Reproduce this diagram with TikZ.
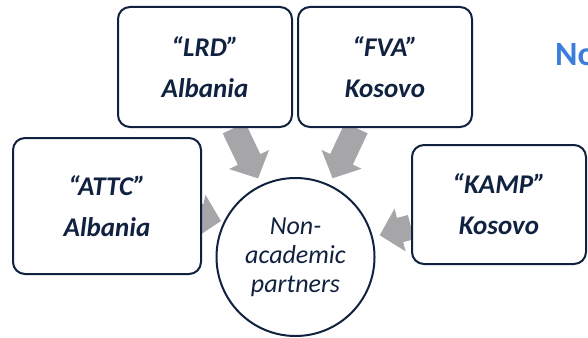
\documentclass[tikz,border=0pt]{standalone}
\usepackage{fontspec}
\setmainfont{Carlito}
\usetikzlibrary{positioning,arrows.meta,backgrounds}
\definecolor{navy}{HTML}{10223F}
\definecolor{flowgray}{HTML}{A6A6A8}
\definecolor{titleblue}{HTML}{3A7DDB}

\begin{document}
\begin{tikzpicture}[x=1pt, y=-1pt, node distance=4pt,
    partner/.style={draw=navy, line width=2pt, rounded corners=12pt, fill=white,
        text=navy, align=center, font=\fontsize{27}{41}\selectfont\bfseries\itshape},
    hubnode/.style={draw=navy, line width=2pt, circle, fill=white, text=navy,
        align=center, font=\fontsize{26}{29}\selectfont\itshape},
    flow/.style={draw=flowgray, line width=25pt, -{Triangle[width=43pt, length=21pt]}, shorten >=7pt}]
    % Fixed canvas, same size as the reference
    \useasboundingbox (0,0) rectangle (588,337);

    % Partner boxes and the hub
    \node[partner, minimum width=174pt, minimum height=120pt] (lrd) at (205,67) {“LRD”\\Albania};
    \node[partner, minimum width=174pt, minimum height=120pt, right=of lrd] (fva) {“FVA”\\Kosovo};
    \node[partner, minimum width=188pt, minimum height=136pt] (attc) at (107,206) {“ATTC”\\Albania};
    \node[partner, minimum width=174pt, minimum height=119pt] (kamp) at (499,204.5) {“KAMP”\\Kosovo};
    \node[hubnode, minimum size=158pt] (hub) at (295.5,257) {Non-\\academic\\partners};

    % Title, cut off at the right edge
    \node[anchor=base west, inner sep=0pt, text=titleblue, font=\fontsize{34}{40}\selectfont\bfseries] (title) at (555,65) {No};

    % Arrows behind the boxes
    \coordinate (attcTip) at (221,221);
    \begin{scope}[on background layer]
        \draw[flow] (lrd) -- (hub);
        \draw[flow] (fva) -- (hub);
        \draw[flow] (kamp) -- (hub);
        \draw[flow, shorten >=0pt] ([yshift=11pt]attc.center) -- (attcTip);
    \end{scope}
\end{tikzpicture}
\end{document}
